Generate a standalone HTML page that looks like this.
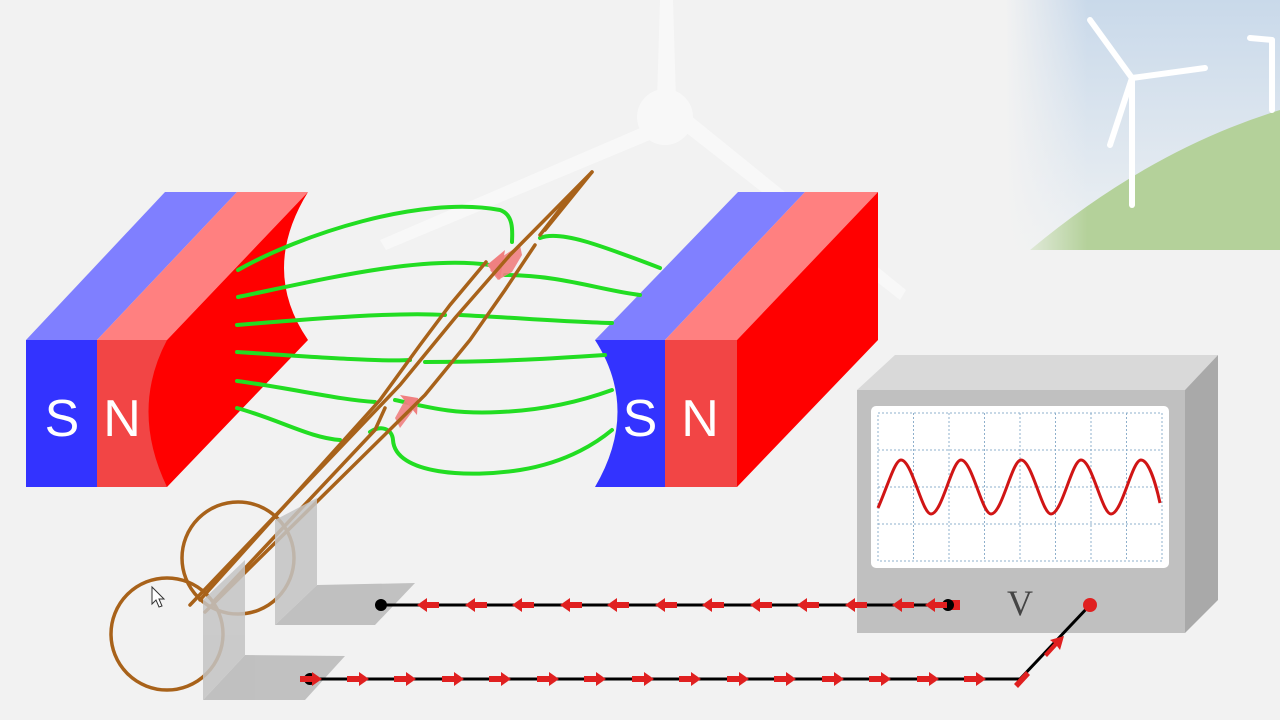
<!DOCTYPE html>
<html><head><meta charset="utf-8"><style>
html,body{margin:0;padding:0;background:#f2f2f2;}
svg{display:block;}
.sans{font-family:"Liberation Sans",sans-serif;}
.serif{font-family:"Liberation Serif",serif;}
</style></head><body>
<svg width="1280" height="720" viewBox="0 0 1280 720" xmlns="http://www.w3.org/2000/svg">
<defs>
<linearGradient id="sky" x1="0" y1="0" x2="0" y2="1">
<stop offset="0" stop-color="#c9d9ea"/><stop offset="1" stop-color="#eef1f3"/></linearGradient>
<linearGradient id="skyfade" x1="0" y1="0" x2="1" y2="0">
<stop offset="0" stop-color="#f2f2f2" stop-opacity="1"/><stop offset="0.3" stop-color="#f2f2f2" stop-opacity="0"/></linearGradient>
</defs>
<rect width="1280" height="720" fill="#f2f2f2"/>
<!-- sky top right -->
<rect x="1005" y="0" width="275" height="250" fill="url(#sky)"/>
<path d="M1030,250 Q1150,150 1280,110 L1280,250 Z" fill="#b4d19a"/>
<rect x="1005" y="0" width="275" height="250" fill="url(#skyfade)"/>
<g stroke="#ffffff" stroke-width="6" stroke-linecap="round" fill="none">
<line x1="1132" y1="78" x2="1132" y2="205"/>
<line x1="1132" y1="78" x2="1090" y2="20"/>
<line x1="1132" y1="78" x2="1205" y2="68"/>
<line x1="1132" y1="78" x2="1110" y2="145"/>
<line x1="1272" y1="40" x2="1272" y2="110"/>
<line x1="1272" y1="40" x2="1250" y2="38"/>
</g>
<!-- faint big turbine -->
<g fill="#f8f8f8">
<circle cx="665" cy="117" r="28"/>
<path d="M657,100 L660,0 L673,0 L676,100Z"/>
<path d="M680,128 L900,300 L906,290 L690,115Z"/>
<path d="M645,126 L380,240 L386,250 L650,140Z"/>
</g>
<!-- left magnet -->
<polygon points="26,340 97,340 237,192 165,192" fill="#7f7fff"/>
<polygon points="97,340 167,340 308,192 237,192" fill="#ff8080"/>
<rect x="26" y="340" width="71" height="147" fill="#3333ff"/>
<rect x="97" y="340" width="70" height="147" fill="#f24545"/>
<path d="M167,340 L308,192 Q260,270 308,340 L167,487 Q130,410 167,340 Z" fill="#ff0000"/>
<text class="sans" x="62" y="436" font-size="52" fill="#fff" text-anchor="middle">S</text>
<text class="sans" x="122" y="436" font-size="52" fill="#fff" text-anchor="middle">N</text>
<!-- right magnet -->
<polygon points="595,340 665,340 805,192 738,192" fill="#8080ff"/>
<polygon points="665,340 737,340 878,192 805,192" fill="#ff8080"/>
<path d="M595,340 L665,340 L665,487 L595,487 Q640,410 595,340 Z" fill="#3333ff"/>
<rect x="665" y="340" width="72" height="147" fill="#f24545"/>
<polygon points="737,340 878,192 878,340 737,487" fill="#ff0000"/>
<text class="sans" x="640" y="436" font-size="52" fill="#fff" text-anchor="middle">S</text>
<text class="sans" x="700" y="436" font-size="52" fill="#fff" text-anchor="middle">N</text>
<!-- field lines -->
<g stroke="#22dd22" stroke-width="4" fill="none" stroke-linecap="round">
<path d="M238,270 C300,235 420,195 500,210 C515,215 512,235 512,242"/>
<path d="M540,238 C560,230 600,245 660,268"/>
<path d="M238,297 C320,280 420,255 490,265"/>
<path d="M505,275 C560,275 600,290 640,295"/>
<path d="M237,325 C320,318 400,312 445,315"/>
<path d="M460,315 C520,318 570,322 612,323"/>
<path d="M237,352 C300,356 380,362 410,360"/>
<path d="M425,362 C500,362 560,358 605,355"/>
<path d="M237,381 C290,388 340,400 375,402"/>
<path d="M395,400 C420,405 450,415 500,412 C550,410 590,398 612,390"/>
<path d="M237,408 C280,420 310,438 340,440"/>
<path d="M370,432 C380,425 392,428 393,440 C395,475 470,478 520,470 C570,462 600,440 612,430"/>
</g>
<!-- red arrows on coil -->
<polygon points="520,245 500,258 490,270 498,280 512,272 522,255" fill="#f08080" opacity="0.9"/>
<polygon points="487,265 505,250 500,280" fill="#f08080"/>
<polygon points="395,418 405,400 418,398 412,412 400,428" fill="#f08080" opacity="0.9"/>
<polygon points="400,395 418,398 417,415" fill="#f08080"/>
<!-- coil -->
<g stroke="#a8621a" stroke-width="3.5" fill="none" stroke-linecap="round">
<path d="M592,172 L510,255 L455,318 L400,385 L190,605"/>
<path d="M592,172 L545,230"/>
<path d="M535,245 L505,290 L470,340 L425,395 L205,612"/>
<path d="M486,262 L450,305 L420,345 L380,400 L200,600"/>
<path d="M575,190 L540,235"/>
<path d="M385,408 L375,430 L215,600"/>
<circle cx="238" cy="558" r="56"/>
<circle cx="167" cy="634" r="56"/>
</g>
<!-- brackets -->
<g opacity="0.85">
<polygon points="275,520 317,498 317,585 275,625" fill="#c4c4c4"/>
<polygon points="275,625 317,585 415,583 375,625" fill="#b8b8b8"/>
<polygon points="203,600 245,560 245,655 203,700" fill="#c4c4c4"/>
<polygon points="203,700 245,655 345,656 305,700" fill="#b8b8b8"/>
</g>
<!-- oscilloscope -->
<polygon points="857,390 895,355 1218,355 1185,390" fill="#d9d9d9"/>
<polygon points="1185,390 1218,355 1218,600 1185,633" fill="#a9a9a9"/>
<rect x="857" y="390" width="328" height="243" fill="#c0c0c0"/>
<rect x="871" y="406" width="298" height="162" rx="5" fill="#ffffff"/>
<g stroke="#8fb0cc" stroke-width="1" stroke-dasharray="2,2" fill="none">
<rect x="878" y="413" width="284" height="148"/>
<line x1="913.5" y1="413" x2="913.5" y2="561"/><line x1="949" y1="413" x2="949" y2="561"/>
<line x1="984.5" y1="413" x2="984.5" y2="561"/><line x1="1020" y1="413" x2="1020" y2="561"/>
<line x1="1055.5" y1="413" x2="1055.5" y2="561"/><line x1="1091" y1="413" x2="1091" y2="561"/>
<line x1="1126.5" y1="413" x2="1126.5" y2="561"/>
<line x1="878" y1="450" x2="1162" y2="450"/><line x1="878" y1="487" x2="1162" y2="487"/>
<line x1="878" y1="524" x2="1162" y2="524"/>
</g>
<path fill="none" stroke="#d01515" stroke-width="3" d="M878,508 C888,485 895,460 901,460 C912,460 922,514 931,514 C942,514 952,460 961,460 C972,460 982,514 991,514 C1002,514 1012,460 1021,460 C1032,460 1042,514 1051,514 C1062,514 1072,460 1081,460 C1092,460 1102,514 1111,514 C1122,514 1132,460 1141,460 C1148,460 1155,480 1160,503"/>
<text class="serif" x="1020" y="615" font-size="36" fill="#444" text-anchor="middle">V</text>
<!-- wires -->
<g stroke="#000" stroke-width="3" fill="none">
<line x1="381" y1="605" x2="948" y2="605"/>
<polyline points="310,679 1020,679 1090,605"/>
</g>
<g fill="#e02020">
<rect x="948" y="600" width="12" height="10"/>
<circle cx="1090" cy="605" r="7"/>
</g>
<g fill="#000">
<circle cx="381" cy="605" r="6"/><circle cx="948" cy="605" r="6"/><circle cx="310" cy="679" r="6"/>
</g>
<g fill="#e02020">
<path d="M417,605 l10,-7 v4 h12 v6 h-12 v4 z"/>
<path d="M465,605 l10,-7 v4 h12 v6 h-12 v4 z"/>
<path d="M512,605 l10,-7 v4 h12 v6 h-12 v4 z"/>
<path d="M560,605 l10,-7 v4 h12 v6 h-12 v4 z"/>
<path d="M607,605 l10,-7 v4 h12 v6 h-12 v4 z"/>
<path d="M655,605 l10,-7 v4 h12 v6 h-12 v4 z"/>
<path d="M702,605 l10,-7 v4 h12 v6 h-12 v4 z"/>
<path d="M750,605 l10,-7 v4 h12 v6 h-12 v4 z"/>
<path d="M797,605 l10,-7 v4 h12 v6 h-12 v4 z"/>
<path d="M845,605 l10,-7 v4 h12 v6 h-12 v4 z"/>
<path d="M892,605 l10,-7 v4 h12 v6 h-12 v4 z"/>
<path d="M925,605 l10,-7 v4 h12 v6 h-12 v4 z"/>
</g>
<g fill="#e02020">
<path d="M300,676 h12 v-4 l10,7 l-10,7 v-4 h-12 z"/>
<g id="ra">
<path d="M347,676 h12 v-4 l10,7 l-10,7 v-4 h-12 z"/>
</g>
<use href="#ra" x="47"/><use href="#ra" x="95"/><use href="#ra" x="142"/><use href="#ra" x="190"/>
<use href="#ra" x="237"/><use href="#ra" x="285"/><use href="#ra" x="332"/><use href="#ra" x="380"/>
<use href="#ra" x="427"/><use href="#ra" x="475"/><use href="#ra" x="522"/><use href="#ra" x="570"/>
<use href="#ra" x="617"/>
<path d="M1014,684 l12,-13 l4,4 l-12,13z"/>
<path d="M1044,654 l10,-11 l-4,-3 l14,-4 l-4,14 l-3,-4 l-10,11z"/>
</g>
<!-- cursor -->
<path d="M152,587 L152,604 L156,600 L159,607 L162,606 L159,599 L164,599 Z" fill="#fff" stroke="#333" stroke-width="1"/>
</svg>
</body></html>
